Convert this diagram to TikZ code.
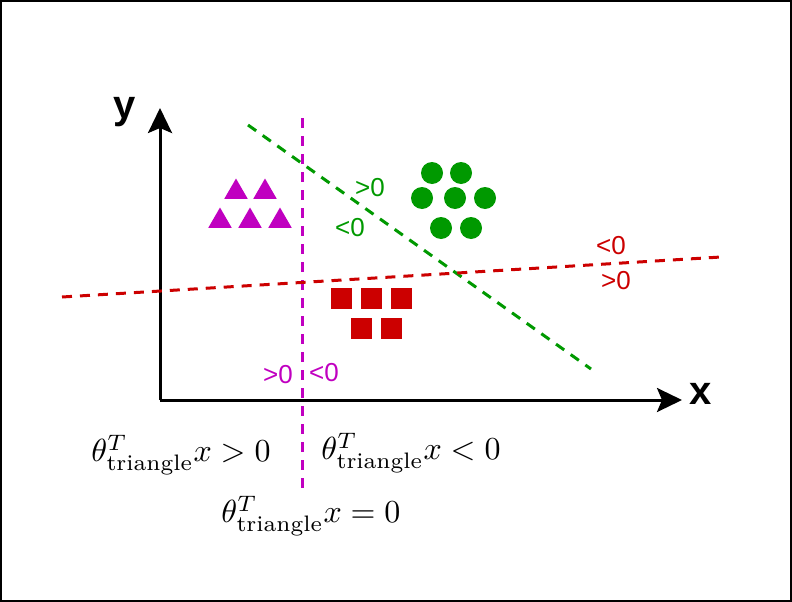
\documentclass[tikz,border=0pt]{standalone}
\usepackage{fontspec}
\newfontfamily\sansfnt{Liberation Sans}
\usetikzlibrary{arrows.meta,shapes.geometric}
\definecolor{mag}{RGB}{192,0,192}
\definecolor{grn}{RGB}{0,153,0}
\definecolor{rd}{RGB}{204,0,0}
\tikzset{
  axisline/.style={line width=3pt,-{Stealth[length=25pt,width=24pt,inset=5pt]}},
  sepline/.style={line width=3pt,dash pattern=on 10pt off 8pt},
  tri/.style={regular polygon,regular polygon sides=3,fill=mag,minimum size=27pt,inner sep=0pt},
  dot/.style={circle,fill=grn,minimum size=22pt,inner sep=0pt},
  sq/.style={rectangle,fill=rd,minimum size=21pt,inner sep=0pt},
  axlabel/.style={font=\sansfnt\bfseries\fontsize{40}{44}\selectfont,inner sep=0pt},
  sgn/.style={font=\sansfnt\fontsize{26}{30}\selectfont,inner sep=0pt},
  mathlbl/.style={inner sep=0pt}
}
\newcommand{\bigmath}[1]{\scalebox{3.2}{#1}}
\begin{document}
\begin{tikzpicture}[x=1pt,y=-1pt]
\useasboundingbox (0,0) rectangle (792,602);
\draw[line width=2pt] (1,1) rectangle (791,601);
% axes
\coordinate (o) at (160,400);
\coordinate (ytip) at (160,108);
\coordinate (xtip) at (682,400);
\draw[axisline] (o) -- (ytip);
\draw[axisline] (o) -- (xtip);
\node[axlabel] (ylab) at (125,112) {y};
\node[axlabel] (xlab) at (701,394) {x};
% separators
\coordinate (m1) at (302,118);
\coordinate (m2) at (302,490);
\draw[sepline,mag] (m1) -- (m2);
\coordinate (g1) at (248,125);
\coordinate (g2) at (591,369);
\draw[sepline,grn] (g1) -- (g2);
\coordinate (r1) at (62,297);
\coordinate (r2) at (721,257);
\draw[sepline,rd] (r1) -- (r2);
% triangles
\node[tri] (t1) at (236,192) {};
\node[tri] (t2) at (265,192) {};
\node[tri] (t3) at (220,221) {};
\node[tri] (t4) at (250,221) {};
\node[tri] (t5) at (280,221) {};
% circles
\node[dot] (c1) at (432,173) {};
\node[dot] (c2) at (461,173) {};
\node[dot] (c3) at (422,198) {};
\node[dot] (c4) at (455,198) {};
\node[dot] (c5) at (485,198) {};
\node[dot] (c6) at (441,228) {};
\node[dot] (c7) at (471,228) {};
% squares
\node[sq] (s1) at (341,298) {};
\node[sq] (s2) at (371,298) {};
\node[sq] (s3) at (401,298) {};
\node[sq] (s4) at (361,328) {};
\node[sq] (s5) at (391,328) {};
% sign labels
\node[sgn,grn] (gp) at (370,188) {>0};
\node[sgn,grn] (gn) at (350,228) {<0};
\node[sgn,rd] (rn) at (611,246) {<0};
\node[sgn,rd] (rp) at (616,281) {>0};
\node[sgn,mag] (mp) at (278,375) {>0};
\node[sgn,mag] (mn) at (324,373) {<0};
% math labels
\node[mathlbl] (lgt) at (181,455) {\bigmath{$\theta^T_{\mathrm{triangle}}x>0$}};
\node[mathlbl] (llt) at (411,453) {\bigmath{$\theta^T_{\mathrm{triangle}}x<0$}};
\node[mathlbl] (leq) at (311,516) {\bigmath{$\theta^T_{\mathrm{triangle}}x=0$}};
\end{tikzpicture}
\end{document}
